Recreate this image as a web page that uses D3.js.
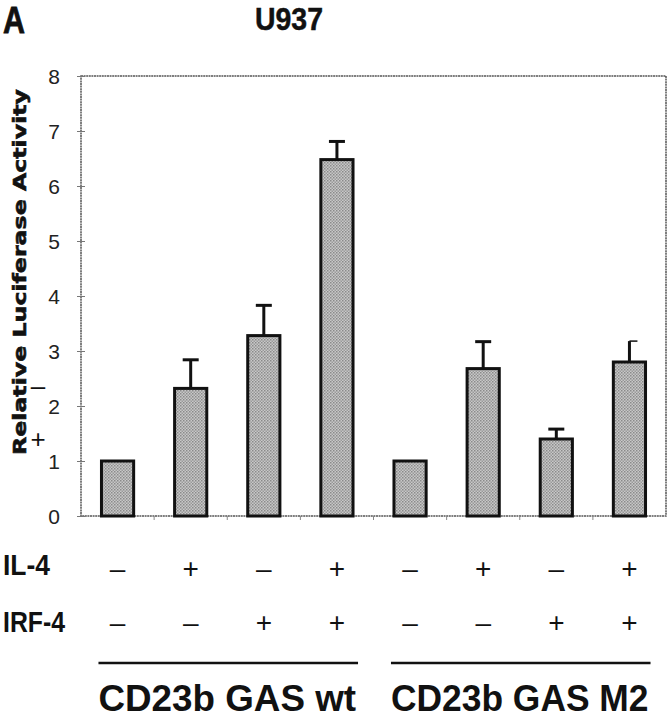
<!DOCTYPE html>
<html><head><meta charset="utf-8">
<script src="https://cdn.jsdelivr.net/npm/d3@7"></script>
<style>body{margin:0;background:#fff}svg{display:block}</style>
</head><body>
<script>
const categories = ["wt1","wt2","wt3","wt4","m1","m2","m3","m4"];
const values = [1.0, 2.32, 3.28, 6.48, 1.0, 2.68, 1.40, 2.80];
const errors = [0, 0.52, 0.55, 0.33, 0, 0.49, 0.18, 0.38];
const il4 = ["–","+","–","+","–","+","–","+"];
const irf4 = ["–","–","+","+","–","–","+","+"];
const groups = [{label:"CD23b GAS wt", from:0, to:3},{label:"CD23b GAS M2", from:4, to:7}];
const yTicks = [0,1,2,3,4,5,6,7,8];

const W=670,H=719;
const svg=d3.select("body").append("svg").attr("width",W).attr("height",H);
const defs=svg.append("defs");
const pat=defs.append("pattern").attr("id","ht").attr("patternUnits","userSpaceOnUse").attr("width",3).attr("height",3);
pat.append("rect").attr("width",3).attr("height",3).attr("fill","#c8c8c8");
pat.append("rect").attr("width",1.5).attr("height",1.5).attr("fill","#8a8a8a");
pat.append("rect").attr("x",1.5).attr("y",1.5).attr("width",1.5).attr("height",1.5).attr("fill","#9a9a9a");

const m={l:81,r:666,t:76,b:516};
const x=d3.scaleBand().domain(categories).range([m.l,m.r]).paddingInner(0.56).paddingOuter(0.28);
const y=d3.scaleLinear().domain([0,8]).range([m.b,m.t]);

// frame
svg.append("rect").attr("x",m.l).attr("y",m.t).attr("width",m.r-m.l).attr("height",m.b-m.t)
  .attr("fill","none").attr("stroke","#555").attr("stroke-width",1.5).attr("stroke-dasharray","2,0.6");

// y axis
const yAxis=d3.axisLeft(y).tickValues(yTicks).tickSize(4).tickFormat(d3.format("d"));
const ya=svg.append("g").attr("transform",`translate(${m.l},0)`).call(yAxis)
  .attr("font-family","Liberation Sans, Arial, sans-serif").attr("font-size",21);
ya.select(".domain").remove();
ya.selectAll(".tick line").attr("x1",-4).attr("x2",4).attr("stroke","#777");
ya.selectAll(".tick text").attr("x",-21).attr("dy","0.36em").attr("fill","#222");

// x minor ticks at band boundaries
const step=x.step();
const bounds=d3.range(1,categories.length).map(i=>m.l+x.paddingOuter()*step - x.paddingInner()*step/2 + i*step);
svg.append("g").selectAll("line").data(bounds).join("line")
  .attr("x1",d=>d).attr("x2",d=>d).attr("y1",m.b).attr("y2",m.b+4).attr("stroke","#888").attr("stroke-width",1);

// bars
svg.append("g").selectAll("rect").data(values).join("rect")
  .attr("x",(d,i)=>x(categories[i])).attr("y",d=>y(d))
  .attr("width",x.bandwidth()).attr("height",d=>m.b-y(d))
  .attr("fill","url(#ht)").attr("stroke","#111").attr("stroke-width",3);

// error bars
const eg=svg.append("g").attr("stroke","#111").attr("stroke-width",3);
values.forEach((v,i)=>{
  if(!errors[i]) return;
  const cx=x(categories[i])+x.bandwidth()/2;
  eg.append("line").attr("x1",cx).attr("x2",cx).attr("y1",y(v)).attr("y2",y(v+errors[i]));
  const half=8;
  eg.append("line").attr("x1",i===7?cx:cx-half).attr("x2",cx+half)
    .attr("y1",y(v+errors[i])).attr("y2",y(v+errors[i])).attr("stroke-width",i===7?1.5:3);
});

// y label
svg.append("text").attr("transform","translate(26,272) rotate(-90)").attr("text-anchor","middle")
  .attr("font-family","DejaVu Sans, sans-serif").attr("font-weight","900").attr("font-size",18)
  .attr("textLength",366).attr("lengthAdjust","spacingAndGlyphs").attr("fill","#111")
  .attr("stroke","#111").attr("stroke-width",0.6)
  .text("Relative Luciferase Activity");
svg.append("text").attr("x",38).attr("y",395).attr("text-anchor","middle").attr("font-family","Liberation Sans, Arial").attr("font-size",26).attr("fill","#111").text("–");
svg.append("text").attr("x",38).attr("y",448).attr("text-anchor","middle").attr("font-family","Liberation Sans, Arial").attr("font-size",26).attr("fill","#111").text("+");

const cond="Liberation Sans Narrow, Liberation Sans, Arial, sans-serif";
// titles
svg.append("text").attr("x",3).attr("y",33).attr("font-family",cond).attr("font-weight","bold")
  .attr("font-size",36).attr("textLength",22).attr("lengthAdjust","spacingAndGlyphs").attr("fill","#111")
  .attr("stroke","#111").attr("stroke-width",0.8).text("A");
svg.append("text").attr("x",255).attr("y",29.5).attr("font-family",cond).attr("font-weight","bold")
  .attr("font-size",32).attr("textLength",68).attr("lengthAdjust","spacingAndGlyphs").attr("fill","#111")
  .attr("stroke","#111").attr("stroke-width",0.5).text("U937");

// row labels
svg.append("text").attr("x",3).attr("y",575).attr("font-family",cond).attr("font-weight","bold")
  .attr("font-size",29).attr("textLength",47).attr("lengthAdjust","spacingAndGlyphs").attr("fill","#111").text("IL-4");
svg.append("text").attr("x",3).attr("y",632).attr("font-family",cond).attr("font-weight","bold")
  .attr("font-size",29).attr("textLength",62).attr("lengthAdjust","spacingAndGlyphs").attr("fill","#111").text("IRF-4");

const signs=svg.append("g").attr("font-family","Liberation Sans, Arial, sans-serif").attr("font-size",28)
  .attr("text-anchor","middle").attr("fill","#111");
il4.forEach((s,i)=>signs.append("text").attr("x",x(categories[i])+x.bandwidth()/2).attr("y",578).text(s));
irf4.forEach((s,i)=>signs.append("text").attr("x",x(categories[i])+x.bandwidth()/2).attr("y",632).text(s));

// group lines and labels
groups.forEach(g=>{
  const x0=x(categories[g.from])-3, x1=x(categories[g.to])+x.bandwidth()+5;
  svg.append("line").attr("x1",x0).attr("x2",x1).attr("y1",663).attr("y2",663).attr("stroke","#111").attr("stroke-width",2.5);
  svg.append("text").attr("x",x0).attr("y",711).attr("font-family",cond).attr("font-weight","bold")
    .attr("font-size",37).attr("textLength",x1-x0-2).attr("lengthAdjust","spacingAndGlyphs").attr("fill","#111").text(g.label);
});
</script>
</body></html>
